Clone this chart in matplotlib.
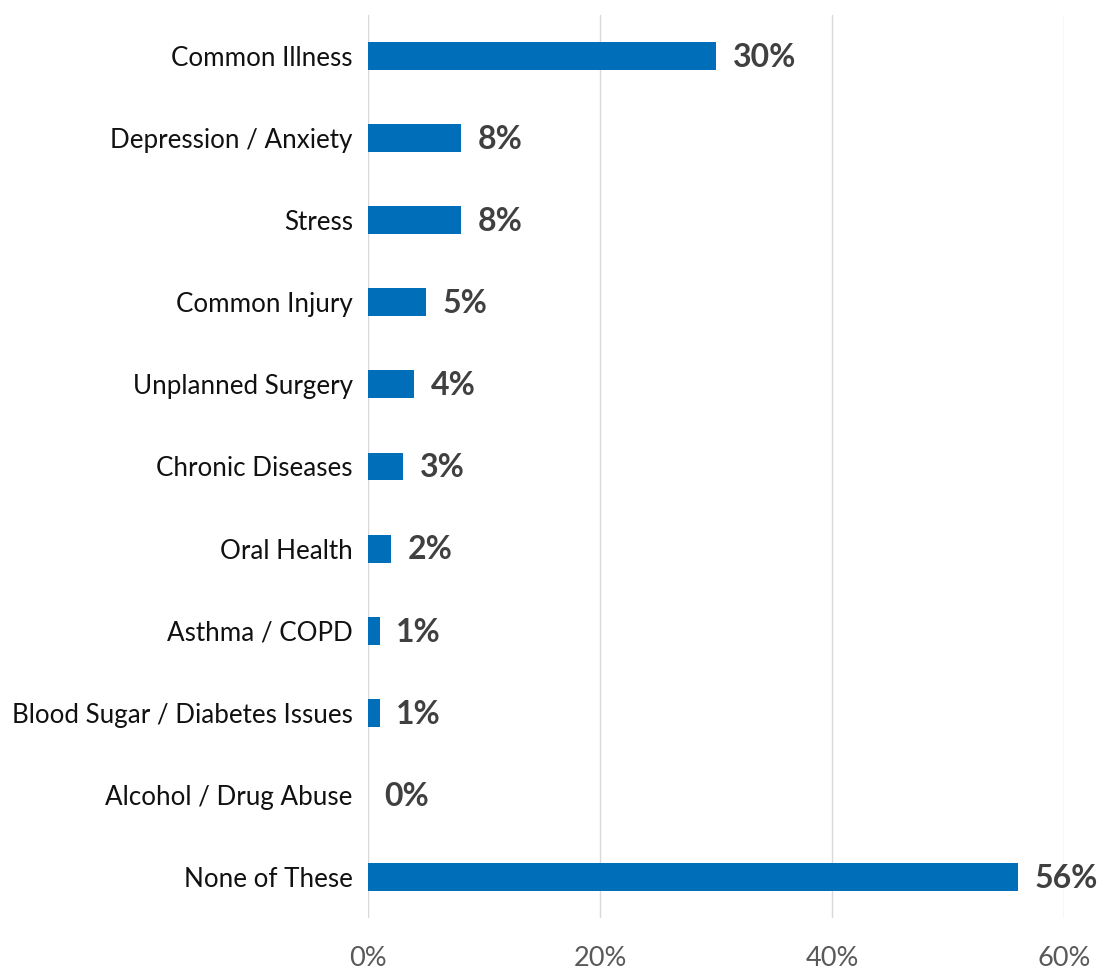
import matplotlib
matplotlib.use('Agg')
import matplotlib.pyplot as plt
from matplotlib.ticker import FuncFormatter

categories = ['Common Illness', 'Depression / Anxiety', 'Stress', 'Common Injury',
              'Unplanned Surgery', 'Chronic Diseases', 'Oral Health', 'Asthma / COPD',
              'Blood Sugar / Diabetes Issues', 'Alcohol / Drug Abuse', 'None of These']
values = [30, 8, 8, 5, 4, 3, 2, 1, 1, 0, 56]
xticks = [0, 20, 40, 60]

plt.rcParams['font.family'] = ['Lato', 'DejaVu Sans']

fig = plt.figure(figsize=(11.04, 9.71), dpi=100)
ax = fig.add_axes([0.3333, 0.0546, 0.6305, 0.93])

y = list(range(len(categories)))
ax.barh(y, values, height=0.34, color='#006EB8', zorder=3)

for yi, v in zip(y, values):
    ax.annotate(f'{v}%', (v, yi), xytext=(12, -1), textcoords='offset points',
                ha='left', va='center', fontsize=23, fontweight='bold', color='#404040')

ax.set_yticks(y)
ax.set_yticklabels(categories, fontsize=18.7, color='#111111')
ax.set_ylim(len(categories) - 0.5, -0.5)
ax.set_xlim(0, 60)
ax.set_xticks(xticks)
ax.xaxis.set_major_formatter(FuncFormatter(lambda v, p: f'{v:.0f}%'))
ax.tick_params(axis='x', labelsize=19.5, labelcolor='#595959', length=0, pad=20)
ax.tick_params(axis='y', length=0, pad=11)
ax.grid(axis='x', color='#D9D9D9', linewidth=1, zorder=0)
for s in ax.spines.values():
    s.set_visible(False)

fig.savefig('out.png', dpi=100)
